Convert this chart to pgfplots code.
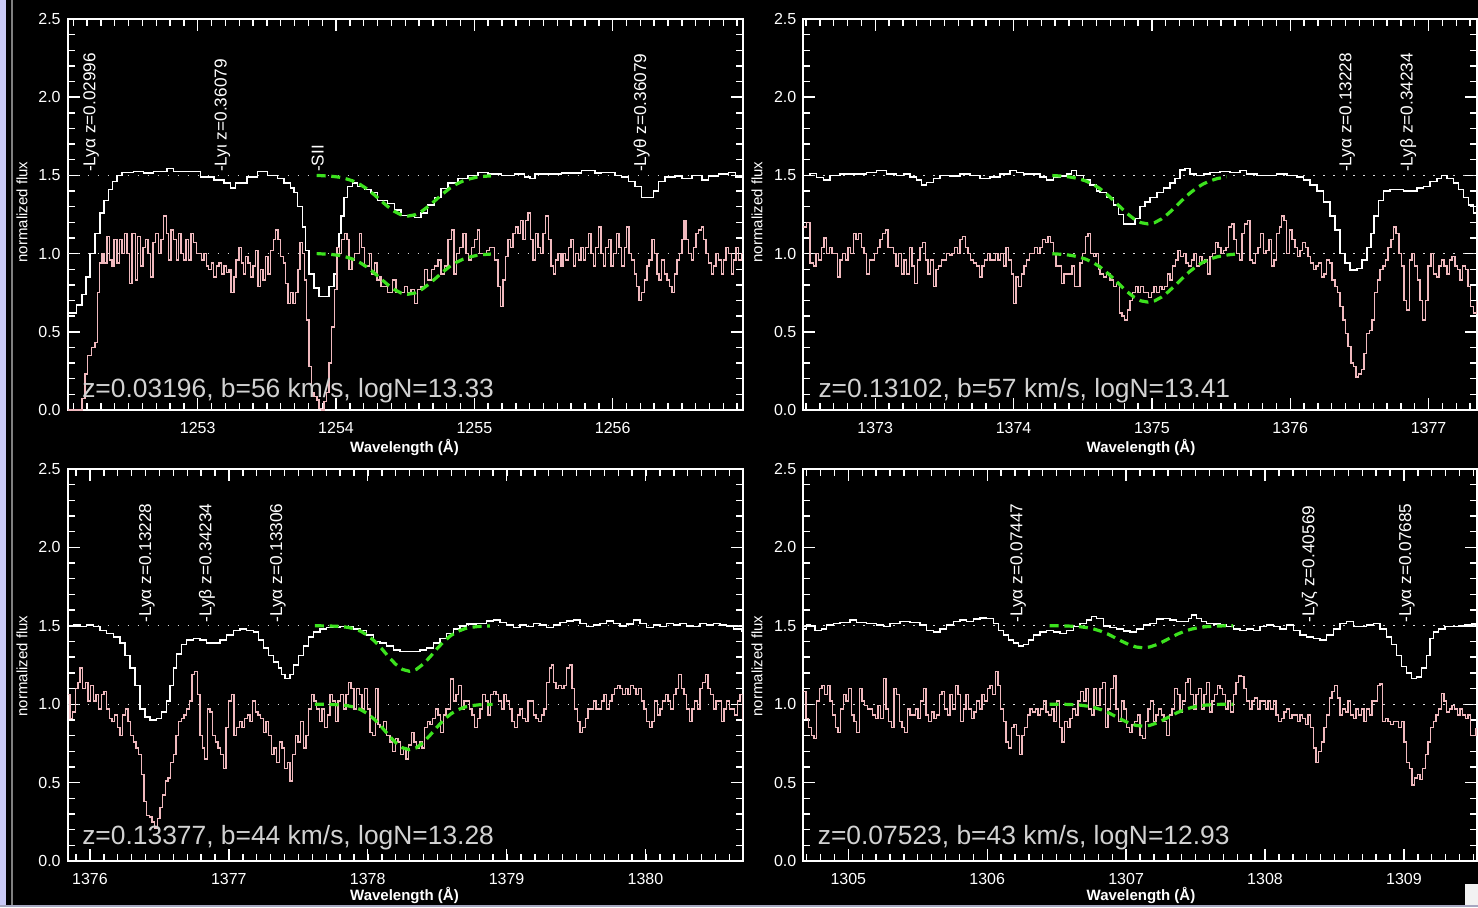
\documentclass[border=0pt]{standalone}
\usepackage{fontspec}
\setmainfont{Liberation Sans}
\usepackage{pgfplots}
\usepackage{pgfplotstable}
\pgfplotsset{compat=1.18}
\definecolor{pinkspec}{RGB}{240,185,190}
\definecolor{modelgreen}{RGB}{60,225,30}
\definecolor{lav}{RGB}{200,200,245}
\definecolor{annot}{RGB}{210,210,210}

% ---------------- Panel 1 ----------------
\pgfplotstableread[row sep=\\]{x y\\
1252.060 0.62\\ 1252.125 0.67\\ 1252.162 0.74\\ 1252.193 0.85\\ 1252.222 1.00\\ 1252.258 1.13\\ 1252.294 1.26\\ 1252.323 1.34\\
1252.355 1.41\\ 1252.384 1.46\\ 1252.415 1.50\\ 1252.452 1.52\\ 1252.536 1.525\\ 1252.609 1.515\\ 1252.681 1.525\\ 1252.778 1.545\\
1252.826 1.525\\ 1252.923 1.525\\ 1253.020 1.49\\ 1253.116 1.47\\ 1253.189 1.45\\ 1253.237 1.42\\ 1253.273 1.45\\ 1253.358 1.49\\
1253.431 1.525\\ 1253.503 1.50\\ 1253.576 1.48\\ 1253.624 1.45\\ 1253.672 1.42\\ 1253.696 1.39\\ 1253.721 1.30\\ 1253.757 1.17\\
1253.781 1.02\\ 1253.805 0.87\\ 1253.842 0.78\\ 1253.878 0.725\\ 1253.914 0.725\\ 1253.950 0.79\\ 1253.987 0.87\\ 1254.011 1.04\\
1254.023 1.13\\ 1254.035 1.24\\ 1254.059 1.36\\ 1254.083 1.43\\ 1254.119 1.45\\ 1254.156 1.43\\ 1254.204 1.41\\ 1254.252 1.39\\
1254.300 1.34\\ 1254.373 1.32\\ 1254.422 1.28\\ 1254.470 1.245\\ 1254.518 1.236\\ 1254.567 1.23\\ 1254.615 1.26\\ 1254.663 1.31\\
1254.712 1.36\\ 1254.760 1.415\\ 1254.808 1.45\\ 1254.881 1.48\\ 1254.953 1.50\\ 1255.026 1.52\\ 1255.098 1.51\\ 1255.195 1.50\\
1255.292 1.51\\ 1255.364 1.49\\ 1255.401 1.48\\ 1255.437 1.51\\ 1255.534 1.51\\ 1255.630 1.515\\ 1255.775 1.53\\ 1255.872 1.515\\
1255.920 1.52\\ 1256.017 1.50\\ 1256.065 1.49\\ 1256.114 1.46\\ 1256.162 1.43\\ 1256.210 1.36\\ 1256.259 1.36\\ 1256.295 1.40\\
1256.331 1.46\\ 1256.380 1.49\\ 1256.452 1.495\\ 1256.501 1.48\\ 1256.573 1.50\\ 1256.646 1.47\\ 1256.694 1.495\\ 1256.766 1.51\\
1256.839 1.52\\ 1256.887 1.49\\ 1256.948 1.49\\
}\wone

\pgfplotstableread[row sep=\\]{x y\\
1252.060 0\\ 1252.089 0\\ 1252.149 0\\ 1252.162 0.075\\ 1252.186 0.23\\ 1252.203 0.35\\ 1252.234 0.40\\ 1252.258 0.43\\
1252.275 0.75\\ 1252.290 0.94\\ 1252.307 1.00\\ 1252.323 0.94\\ 1252.343 1.11\\ 1252.362 0.96\\ 1252.379 0.92\\ 1252.396 1.09\\
1252.415 0.94\\ 1252.435 1.09\\ 1252.452 1.00\\ 1252.469 1.13\\ 1252.488 1.00\\ 1252.507 0.81\\ 1252.524 1.13\\ 1252.548 0.83\\
1252.565 1.11\\ 1252.585 0.92\\ 1252.604 1.04\\ 1252.621 1.09\\ 1252.640 1.00\\ 1252.657 0.85\\ 1252.676 1.07\\ 1252.696 1.13\\
1252.715 1.00\\ 1252.734 1.09\\ 1252.754 1.24\\ 1252.773 1.13\\ 1252.790 0.96\\ 1252.807 1.15\\ 1252.826 1.09\\ 1252.846 0.96\\
1252.863 1.13\\ 1252.879 1.00\\ 1252.899 0.96\\ 1252.916 1.09\\ 1252.935 0.96\\ 1252.952 1.13\\ 1252.971 1.07\\ 1252.991 1.00\\
1253.008 1.00\\ 1253.027 0.96\\ 1253.044 1.00\\ 1253.063 0.92\\ 1253.080 0.90\\ 1253.099 0.94\\ 1253.116 0.85\\ 1253.136 0.92\\
1253.153 0.94\\ 1253.172 0.87\\ 1253.189 0.92\\ 1253.208 0.88\\ 1253.225 0.90\\ 1253.242 0.75\\ 1253.261 0.85\\ 1253.278 0.96\\
1253.298 1.04\\ 1253.315 0.94\\ 1253.329 0.87\\ 1253.346 0.98\\ 1253.363 0.94\\ 1253.382 0.85\\ 1253.399 0.92\\ 1253.418 1.02\\
1253.435 0.79\\ 1253.455 0.90\\ 1253.472 0.83\\ 1253.491 0.98\\ 1253.508 0.87\\ 1253.527 1.02\\ 1253.547 1.09\\ 1253.563 1.15\\
1253.580 1.09\\ 1253.600 0.98\\ 1253.619 0.94\\ 1253.636 0.81\\ 1253.653 0.68\\ 1253.672 0.75\\ 1253.689 0.68\\ 1253.709 0.75\\
1253.725 0.90\\ 1253.740 1.07\\ 1253.757 1.00\\ 1253.774 0.83\\ 1253.788 0.575\\ 1253.805 0.28\\ 1253.822 0.11\\ 1253.841 0.085\\
1253.861 0.064\\ 1253.878 0.01\\ 1253.895 0.0\\ 1253.914 0.053\\ 1253.933 0.11\\ 1253.950 0.30\\ 1253.967 0.53\\ 1253.987 0.77\\
1254.006 1.04\\ 1254.023 1.00\\ 1254.040 1.09\\ 1254.059 1.13\\ 1254.078 1.09\\ 1254.095 0.90\\ 1254.115 0.96\\ 1254.132 1.00\\
1254.151 1.00\\ 1254.168 1.13\\ 1254.185 1.04\\ 1254.204 0.92\\ 1254.223 0.92\\ 1254.240 1.00\\ 1254.257 0.87\\ 1254.277 0.94\\
1254.296 0.83\\ 1254.313 0.85\\ 1254.325 0.79\\ 1254.349 0.79\\ 1254.373 0.75\\ 1254.410 0.83\\ 1254.434 0.75\\ 1254.470 0.75\\
1254.494 0.79\\ 1254.518 0.75\\ 1254.543 0.77\\ 1254.567 0.68\\ 1254.591 0.77\\ 1254.615 0.79\\ 1254.639 0.90\\ 1254.663 0.83\\
1254.688 0.90\\ 1254.712 0.92\\ 1254.736 0.96\\ 1254.760 0.87\\ 1254.784 0.92\\ 1254.808 1.09\\ 1254.833 1.15\\ 1254.852 0.87\\
1254.869 1.00\\ 1254.893 1.04\\ 1254.917 1.13\\ 1254.941 1.00\\ 1254.958 0.96\\ 1254.978 1.04\\ 1255.002 1.09\\ 1255.021 1.15\\
1255.038 1.00\\ 1255.062 1.00\\ 1255.086 1.02\\ 1255.111 1.04\\ 1255.147 0.96\\ 1255.171 0.79\\ 1255.190 0.66\\ 1255.207 0.83\\
1255.224 0.98\\ 1255.244 1.09\\ 1255.263 1.04\\ 1255.280 1.13\\ 1255.297 1.17\\ 1255.316 1.13\\ 1255.335 1.21\\ 1255.352 1.09\\
1255.369 1.21\\ 1255.389 1.26\\ 1255.408 1.09\\ 1255.425 0.96\\ 1255.442 1.13\\ 1255.461 1.04\\ 1255.480 1.00\\ 1255.497 1.13\\
1255.514 1.24\\ 1255.534 1.09\\ 1255.553 0.92\\ 1255.570 0.87\\ 1255.587 0.96\\ 1255.606 1.00\\ 1255.625 0.92\\ 1255.642 1.00\\
1255.659 0.96\\ 1255.679 1.04\\ 1255.698 1.09\\ 1255.715 0.92\\ 1255.732 1.00\\ 1255.751 0.96\\ 1255.771 1.04\\ 1255.787 0.96\\
1255.804 1.04\\ 1255.824 1.13\\ 1255.843 1.00\\ 1255.860 0.92\\ 1255.877 1.04\\ 1255.896 1.17\\ 1255.916 1.00\\ 1255.932 0.92\\
1255.949 1.04\\ 1255.969 1.09\\ 1255.988 0.92\\ 1256.005 1.00\\ 1256.029 1.13\\ 1256.046 1.04\\ 1256.065 0.92\\ 1256.085 1.04\\
1256.102 1.17\\ 1256.119 1.00\\ 1256.138 0.96\\ 1256.157 0.87\\ 1256.174 0.79\\ 1256.191 0.70\\ 1256.210 0.75\\ 1256.230 0.83\\
1256.247 0.92\\ 1256.264 0.96\\ 1256.283 1.09\\ 1256.302 1.00\\ 1256.319 0.87\\ 1256.336 0.83\\ 1256.355 0.96\\ 1256.375 0.87\\
1256.392 0.83\\ 1256.409 0.79\\ 1256.428 0.75\\ 1256.447 0.87\\ 1256.464 0.96\\ 1256.481 1.00\\ 1256.501 1.09\\ 1256.515 1.21\\
1256.529 1.09\\ 1256.549 1.00\\ 1256.568 0.96\\ 1256.585 1.04\\ 1256.602 1.13\\ 1256.621 1.15\\ 1256.641 1.17\\ 1256.658 1.09\\
1256.675 1.00\\ 1256.694 0.94\\ 1256.713 0.87\\ 1256.730 0.92\\ 1256.747 1.00\\ 1256.766 0.96\\ 1256.786 0.87\\ 1256.803 0.96\\
1256.820 1.04\\ 1256.839 1.00\\ 1256.858 0.87\\ 1256.875 0.96\\ 1256.892 1.04\\ 1256.911 0.96\\ 1256.931 1.00\\ 1256.948 0.92\\
}\pone

\pgfplotstableread[row sep=\\]{x y\\
1253.86 1.500\\ 1253.92 1.497\\ 1253.97 1.494\\ 1254.02 1.489\\ 1254.07 1.479\\ 1254.12 1.465\\ 1254.17 1.444\\ 1254.22 1.416\\
1254.27 1.381\\ 1254.32 1.342\\ 1254.37 1.304\\ 1254.42 1.271\\ 1254.47 1.248\\ 1254.52 1.240\\ 1254.57 1.248\\ 1254.62 1.271\\
1254.67 1.304\\ 1254.72 1.342\\ 1254.77 1.381\\ 1254.82 1.416\\ 1254.87 1.444\\ 1254.92 1.465\\ 1254.97 1.479\\ 1255.02 1.489\\
1255.07 1.494\\ 1255.12 1.497\\
}\goneu
\pgfplotstableread[row sep=\\]{x y\\
1253.86 1.000\\ 1253.92 0.997\\ 1253.97 0.994\\ 1254.02 0.989\\ 1254.07 0.979\\ 1254.12 0.965\\ 1254.17 0.944\\ 1254.22 0.916\\
1254.27 0.881\\ 1254.32 0.842\\ 1254.37 0.804\\ 1254.42 0.771\\ 1254.47 0.748\\ 1254.52 0.740\\ 1254.57 0.748\\ 1254.62 0.771\\
1254.67 0.804\\ 1254.72 0.842\\ 1254.77 0.881\\ 1254.82 0.916\\ 1254.87 0.944\\ 1254.92 0.965\\ 1254.97 0.979\\ 1255.02 0.989\\
1255.07 0.994\\ 1255.12 0.997\\
}\gonel

% ---------------- Panel 2 ----------------
\pgfplotstableread[row sep=\\]{x y\\
1372.480 1.50\\ 1372.528 1.513\\ 1372.576 1.488\\ 1372.625 1.471\\ 1372.673 1.50\\ 1372.745 1.51\\ 1372.842 1.51\\ 1372.938 1.517\\
1373.010 1.53\\ 1373.083 1.51\\ 1373.155 1.50\\ 1373.203 1.51\\ 1373.251 1.49\\ 1373.299 1.47\\ 1373.336 1.44\\ 1373.372 1.455\\
1373.420 1.48\\ 1373.468 1.50\\ 1373.540 1.496\\ 1373.613 1.51\\ 1373.685 1.50\\ 1373.757 1.48\\ 1373.830 1.49\\ 1373.902 1.51\\
1373.974 1.53\\ 1374.022 1.517\\ 1374.071 1.51\\ 1374.143 1.51\\ 1374.191 1.49\\ 1374.239 1.47\\ 1374.288 1.49\\ 1374.336 1.496\\
1374.384 1.51\\ 1374.420 1.53\\ 1374.456 1.50\\ 1374.504 1.47\\ 1374.553 1.44\\ 1374.601 1.40\\ 1374.625 1.39\\ 1374.673 1.36\\
1374.721 1.31\\ 1374.758 1.25\\ 1374.794 1.19\\ 1374.842 1.19\\ 1374.878 1.225\\ 1374.914 1.30\\ 1374.950 1.33\\ 1374.987 1.36\\
1375.035 1.39\\ 1375.083 1.42\\ 1375.131 1.45\\ 1375.167 1.48\\ 1375.203 1.535\\ 1375.240 1.545\\ 1375.276 1.51\\ 1375.324 1.50\\
1375.372 1.51\\ 1375.420 1.517\\ 1375.493 1.524\\ 1375.565 1.517\\ 1375.637 1.53\\ 1375.685 1.51\\ 1375.758 1.50\\ 1375.830 1.50\\
1375.902 1.51\\ 1375.975 1.50\\ 1376.047 1.49\\ 1376.095 1.47\\ 1376.143 1.44\\ 1376.192 1.40\\ 1376.240 1.33\\ 1376.288 1.24\\
1376.324 1.15\\ 1376.360 1.00\\ 1376.397 0.94\\ 1376.433 0.895\\ 1376.481 0.905\\ 1376.517 0.96\\ 1376.553 1.04\\ 1376.582 1.13\\
1376.606 1.24\\ 1376.638 1.34\\ 1376.674 1.40\\ 1376.722 1.41\\ 1376.770 1.41\\ 1376.818 1.40\\ 1376.867 1.40\\ 1376.915 1.42\\
1376.963 1.43\\ 1377.011 1.46\\ 1377.059 1.48\\ 1377.095 1.50\\ 1377.132 1.48\\ 1377.180 1.45\\ 1377.216 1.41\\ 1377.252 1.36\\
1377.288 1.31\\ 1377.324 1.26\\ 1377.348 1.23\\
}\wtwo

\pgfplotstableread[row sep=\\]{x y\\
1372.480 1.17\\ 1372.504 1.20\\ 1372.528 0.94\\ 1372.552 0.92\\ 1372.572 1.00\\ 1372.591 0.96\\ 1372.610 1.04\\ 1372.629 1.10\\
1372.649 1.00\\ 1372.668 1.04\\ 1372.687 1.00\\ 1372.707 1.00\\ 1372.726 0.85\\ 1372.745 0.96\\ 1372.764 1.00\\ 1372.784 0.96\\
1372.803 1.04\\ 1372.822 1.00\\ 1372.842 1.13\\ 1372.861 1.09\\ 1372.880 1.13\\ 1372.899 1.04\\ 1372.919 1.00\\ 1372.938 0.87\\
1372.957 0.96\\ 1372.977 0.96\\ 1372.996 1.00\\ 1373.015 1.04\\ 1373.034 1.09\\ 1373.054 1.13\\ 1373.073 1.15\\ 1373.092 1.04\\
1373.111 1.04\\ 1373.131 1.00\\ 1373.150 0.92\\ 1373.169 1.00\\ 1373.189 0.87\\ 1373.208 0.96\\ 1373.227 0.87\\ 1373.246 1.04\\
1373.266 0.92\\ 1373.285 0.81\\ 1373.304 0.96\\ 1373.324 1.04\\ 1373.343 1.07\\ 1373.362 0.96\\ 1373.381 0.87\\ 1373.401 0.96\\
1373.420 0.79\\ 1373.439 0.90\\ 1373.459 0.92\\ 1373.478 0.96\\ 1373.497 0.96\\ 1373.516 1.00\\ 1373.536 0.99\\ 1373.555 1.00\\
1373.574 1.04\\ 1373.594 1.00\\ 1373.613 1.09\\ 1373.632 1.11\\ 1373.651 1.04\\ 1373.671 1.00\\ 1373.690 0.96\\ 1373.709 0.94\\
1373.733 0.92\\ 1373.753 0.85\\ 1373.772 0.92\\ 1373.791 0.96\\ 1373.810 1.00\\ 1373.830 0.96\\ 1373.849 0.96\\ 1373.868 1.00\\
1373.888 0.96\\ 1373.907 1.00\\ 1373.926 0.92\\ 1373.945 1.04\\ 1373.965 0.96\\ 1373.984 0.87\\ 1373.998 0.68\\ 1374.018 0.85\\
1374.037 0.79\\ 1374.056 0.87\\ 1374.076 0.92\\ 1374.095 0.96\\ 1374.114 1.00\\ 1374.133 1.00\\ 1374.153 1.04\\ 1374.172 1.00\\
1374.191 1.04\\ 1374.211 1.09\\ 1374.230 1.07\\ 1374.249 1.11\\ 1374.268 1.07\\ 1374.288 1.00\\ 1374.307 0.92\\ 1374.326 0.92\\
1374.346 0.81\\ 1374.365 0.87\\ 1374.384 0.87\\ 1374.403 0.87\\ 1374.423 0.92\\ 1374.442 0.79\\ 1374.461 0.79\\ 1374.480 0.94\\
1374.500 1.00\\ 1374.519 1.11\\ 1374.538 1.13\\ 1374.558 1.00\\ 1374.577 0.98\\ 1374.596 1.00\\ 1374.615 0.90\\ 1374.625 0.87\\
1374.649 0.85\\ 1374.673 0.87\\ 1374.697 0.83\\ 1374.721 0.79\\ 1374.746 0.81\\ 1374.765 0.62\\ 1374.784 0.60\\ 1374.803 0.575\\
1374.823 0.64\\ 1374.842 0.70\\ 1374.861 0.75\\ 1374.880 0.79\\ 1374.900 0.75\\ 1374.919 0.79\\ 1374.938 0.75\\ 1374.958 0.75\\
1374.977 0.72\\ 1374.996 0.75\\ 1375.015 0.79\\ 1375.035 0.75\\ 1375.054 0.79\\ 1375.073 0.77\\ 1375.093 0.79\\ 1375.112 0.87\\
1375.131 0.83\\ 1375.150 0.92\\ 1375.170 0.96\\ 1375.189 1.02\\ 1375.208 0.98\\ 1375.228 1.00\\ 1375.247 0.94\\ 1375.266 0.92\\
1375.285 0.96\\ 1375.305 1.00\\ 1375.324 0.92\\ 1375.343 0.98\\ 1375.363 0.94\\ 1375.382 0.96\\ 1375.401 0.87\\ 1375.420 0.98\\
1375.440 1.00\\ 1375.459 1.07\\ 1375.478 1.04\\ 1375.498 1.00\\ 1375.517 1.02\\ 1375.536 1.04\\ 1375.555 1.17\\ 1375.575 1.19\\
1375.594 1.09\\ 1375.613 1.00\\ 1375.632 0.96\\ 1375.652 1.13\\ 1375.671 1.19\\ 1375.690 1.21\\ 1375.710 0.96\\ 1375.729 0.94\\
1375.748 1.00\\ 1375.767 1.04\\ 1375.787 1.13\\ 1375.806 1.00\\ 1375.825 1.02\\ 1375.845 1.09\\ 1375.864 0.92\\ 1375.883 0.96\\
1375.902 1.13\\ 1375.922 1.17\\ 1375.936 1.24\\ 1375.955 1.21\\ 1375.975 1.00\\ 1375.994 1.15\\ 1376.013 1.09\\ 1376.033 1.04\\
1376.052 0.98\\ 1376.071 1.02\\ 1376.090 1.07\\ 1376.110 1.04\\ 1376.129 0.98\\ 1376.148 0.94\\ 1376.168 0.90\\ 1376.187 0.92\\
1376.206 0.94\\ 1376.225 0.85\\ 1376.245 0.87\\ 1376.264 0.96\\ 1376.283 0.94\\ 1376.303 0.83\\ 1376.322 0.79\\ 1376.341 0.75\\
1376.360 0.66\\ 1376.380 0.575\\ 1376.399 0.49\\ 1376.418 0.405\\ 1376.438 0.30\\ 1376.457 0.28\\ 1376.476 0.21\\ 1376.495 0.23\\
1376.515 0.26\\ 1376.534 0.36\\ 1376.553 0.49\\ 1376.572 0.51\\ 1376.592 0.575\\ 1376.611 0.75\\ 1376.630 0.83\\ 1376.650 0.90\\
1376.669 0.92\\ 1376.688 0.96\\ 1376.707 1.04\\ 1376.727 1.09\\ 1376.746 1.17\\ 1376.765 1.13\\ 1376.785 1.00\\ 1376.804 0.92\\
1376.823 0.70\\ 1376.842 0.64\\ 1376.862 0.96\\ 1376.881 1.00\\ 1376.900 0.92\\ 1376.920 0.83\\ 1376.939 0.70\\ 1376.958 0.575\\
1376.977 0.70\\ 1376.997 0.92\\ 1377.016 1.00\\ 1377.035 0.87\\ 1377.055 0.85\\ 1377.074 0.92\\ 1377.093 0.96\\ 1377.112 0.92\\
1377.132 0.87\\ 1377.151 0.96\\ 1377.170 0.98\\ 1377.190 0.92\\ 1377.209 0.90\\ 1377.228 0.83\\ 1377.247 0.92\\ 1377.267 0.90\\
1377.286 0.79\\ 1377.305 0.66\\ 1377.324 0.62\\ 1377.348 0.70\\
}\ptwo

\pgfplotstableread[row sep=\\]{x y\\
1374.28 1.499\\ 1374.32 1.497\\ 1374.37 1.494\\ 1374.42 1.488\\ 1374.47 1.479\\ 1374.52 1.465\\ 1374.57 1.445\\ 1374.62 1.418\\
1374.67 1.383\\ 1374.72 1.342\\ 1374.77 1.299\\ 1374.82 1.257\\ 1374.87 1.222\\ 1374.92 1.198\\ 1374.97 1.190\\ 1375.02 1.198\\
1375.07 1.222\\ 1375.12 1.257\\ 1375.17 1.299\\ 1375.22 1.342\\ 1375.27 1.383\\ 1375.32 1.418\\ 1375.37 1.445\\ 1375.42 1.465\\
1375.47 1.479\\ 1375.52 1.488\\ 1375.54 1.491\\
}\gtwou
\pgfplotstableread[row sep=\\]{x y\\
1374.28 0.999\\ 1374.32 0.997\\ 1374.37 0.994\\ 1374.42 0.988\\ 1374.47 0.979\\ 1374.52 0.965\\ 1374.57 0.945\\ 1374.62 0.918\\
1374.67 0.883\\ 1374.72 0.842\\ 1374.77 0.799\\ 1374.82 0.757\\ 1374.87 0.722\\ 1374.92 0.698\\ 1374.97 0.690\\ 1375.02 0.698\\
1375.07 0.722\\ 1375.12 0.757\\ 1375.17 0.799\\ 1375.22 0.842\\ 1375.27 0.883\\ 1375.32 0.918\\ 1375.37 0.945\\ 1375.42 0.965\\
1375.47 0.979\\ 1375.52 0.988\\ 1375.57 0.994\\ 1375.60 0.996\\
}\gtwol

% ---------------- Panel 3 ----------------
\pgfplotstableread[row sep=\\]{x y\\
1375.839 1.50\\ 1375.880 1.505\\ 1375.928 1.495\\ 1375.976 1.505\\ 1376.024 1.495\\ 1376.072 1.47\\ 1376.120 1.45\\ 1376.168 1.43\\
1376.216 1.39\\ 1376.252 1.31\\ 1376.288 1.23\\ 1376.324 1.12\\ 1376.360 0.97\\ 1376.396 0.92\\ 1376.432 0.90\\ 1376.480 0.91\\
1376.516 0.95\\ 1376.552 1.02\\ 1376.576 1.12\\ 1376.600 1.23\\ 1376.624 1.32\\ 1376.660 1.38\\ 1376.696 1.41\\ 1376.744 1.42\\
1376.792 1.41\\ 1376.840 1.39\\ 1376.888 1.39\\ 1376.936 1.41\\ 1376.984 1.44\\ 1377.032 1.47\\ 1377.080 1.48\\ 1377.128 1.47\\
1377.176 1.46\\ 1377.212 1.41\\ 1377.248 1.36\\ 1377.284 1.31\\ 1377.320 1.27\\ 1377.356 1.23\\ 1377.380 1.19\\ 1377.404 1.165\\
1377.440 1.19\\ 1377.464 1.25\\ 1377.500 1.31\\ 1377.536 1.37\\ 1377.572 1.43\\ 1377.608 1.46\\ 1377.656 1.48\\ 1377.704 1.49\\
1377.752 1.49\\ 1377.800 1.495\\ 1377.848 1.495\\ 1377.896 1.48\\ 1377.944 1.47\\ 1377.992 1.44\\ 1378.040 1.40\\ 1378.088 1.39\\
1378.136 1.37\\ 1378.184 1.345\\ 1378.232 1.335\\ 1378.280 1.335\\ 1378.328 1.335\\ 1378.376 1.345\\ 1378.424 1.36\\ 1378.472 1.39\\
1378.520 1.42\\ 1378.568 1.45\\ 1378.616 1.48\\ 1378.664 1.50\\ 1378.712 1.51\\ 1378.784 1.516\\ 1378.856 1.53\\ 1378.904 1.537\\
1378.952 1.52\\ 1379.000 1.505\\ 1379.048 1.49\\ 1379.096 1.505\\ 1379.144 1.495\\ 1379.192 1.516\\ 1379.240 1.505\\ 1379.288 1.49\\
1379.336 1.505\\ 1379.384 1.52\\ 1379.432 1.53\\ 1379.480 1.537\\ 1379.528 1.516\\ 1379.576 1.495\\ 1379.624 1.505\\ 1379.672 1.516\\
1379.720 1.53\\ 1379.768 1.516\\ 1379.816 1.50\\ 1379.864 1.51\\ 1379.912 1.537\\ 1379.960 1.516\\ 1380.008 1.49\\ 1380.056 1.505\\
1380.104 1.495\\ 1380.152 1.516\\ 1380.200 1.505\\ 1380.248 1.516\\ 1380.296 1.50\\ 1380.344 1.495\\ 1380.392 1.516\\ 1380.440 1.505\\
1380.488 1.516\\ 1380.536 1.505\\ 1380.584 1.50\\ 1380.632 1.48\\ 1380.692 1.46\\
}\wthree

\pgfplotstableread[row sep=\\]{x y\\
1375.839 1.06\\ 1375.856 0.91\\ 1375.875 0.95\\ 1375.894 1.10\\ 1375.914 1.14\\ 1375.928 1.23\\ 1375.947 1.10\\ 1375.966 1.14\\
1375.986 1.02\\ 1376.005 1.12\\ 1376.024 1.02\\ 1376.043 1.06\\ 1376.062 0.97\\ 1376.082 1.06\\ 1376.101 1.08\\ 1376.120 0.97\\
1376.139 0.91\\ 1376.158 0.89\\ 1376.178 0.93\\ 1376.197 0.85\\ 1376.216 0.80\\ 1376.235 0.93\\ 1376.254 0.97\\ 1376.274 0.89\\
1376.293 0.80\\ 1376.312 0.76\\ 1376.331 0.72\\ 1376.350 0.68\\ 1376.370 0.55\\ 1376.389 0.38\\ 1376.408 0.29\\ 1376.427 0.28\\
1376.446 0.25\\ 1376.466 0.21\\ 1376.485 0.27\\ 1376.504 0.34\\ 1376.523 0.42\\ 1376.542 0.51\\ 1376.562 0.53\\ 1376.581 0.63\\
1376.600 0.68\\ 1376.619 0.80\\ 1376.638 0.89\\ 1376.658 0.91\\ 1376.677 0.93\\ 1376.696 0.97\\ 1376.715 1.02\\ 1376.734 1.19\\
1376.754 1.21\\ 1376.773 1.06\\ 1376.792 0.80\\ 1376.811 0.72\\ 1376.826 0.65\\ 1376.845 0.97\\ 1376.864 0.95\\ 1376.883 0.80\\
1376.902 0.76\\ 1376.922 0.72\\ 1376.941 0.68\\ 1376.960 0.59\\ 1376.979 0.85\\ 1376.998 1.02\\ 1377.018 1.06\\ 1377.037 0.80\\
1377.056 0.85\\ 1377.075 0.89\\ 1377.094 0.85\\ 1377.114 0.91\\ 1377.133 0.93\\ 1377.152 0.89\\ 1377.171 1.02\\ 1377.190 0.95\\
1377.210 0.93\\ 1377.229 0.91\\ 1377.248 0.82\\ 1377.267 0.89\\ 1377.286 0.80\\ 1377.306 0.68\\ 1377.325 0.72\\ 1377.344 0.63\\
1377.363 0.76\\ 1377.382 0.72\\ 1377.402 0.59\\ 1377.421 0.63\\ 1377.440 0.51\\ 1377.459 0.68\\ 1377.478 0.80\\ 1377.498 0.76\\
1377.517 0.89\\ 1377.536 0.72\\ 1377.555 0.80\\ 1377.574 0.97\\ 1377.594 1.06\\ 1377.613 1.02\\ 1377.632 0.97\\ 1377.651 0.89\\
1377.670 0.97\\ 1377.689 0.85\\ 1377.709 0.93\\ 1377.728 1.06\\ 1377.747 1.02\\ 1377.766 0.89\\ 1377.785 1.02\\ 1377.805 1.06\\
1377.824 0.97\\ 1377.843 1.06\\ 1377.862 1.14\\ 1377.881 1.10\\ 1377.901 0.97\\ 1377.920 1.10\\ 1377.939 1.06\\ 1377.958 0.97\\
1377.977 1.10\\ 1377.997 0.97\\ 1378.016 0.82\\ 1378.035 0.80\\ 1378.054 1.10\\ 1378.073 0.87\\ 1378.088 0.85\\ 1378.112 0.89\\
1378.136 0.80\\ 1378.160 0.76\\ 1378.179 0.70\\ 1378.198 0.78\\ 1378.218 0.76\\ 1378.237 0.68\\ 1378.256 0.72\\ 1378.275 0.65\\
1378.294 0.74\\ 1378.314 0.82\\ 1378.333 0.76\\ 1378.352 0.72\\ 1378.371 0.76\\ 1378.390 0.72\\ 1378.410 0.85\\ 1378.429 0.89\\
1378.448 0.87\\ 1378.467 0.91\\ 1378.486 0.97\\ 1378.506 0.93\\ 1378.525 0.82\\ 1378.544 0.93\\ 1378.563 0.97\\ 1378.582 0.97\\
1378.597 1.16\\ 1378.616 1.02\\ 1378.635 1.06\\ 1378.654 1.12\\ 1378.674 0.97\\ 1378.693 1.02\\ 1378.712 1.02\\ 1378.731 0.97\\
1378.750 0.93\\ 1378.770 0.85\\ 1378.789 0.91\\ 1378.808 0.97\\ 1378.827 1.06\\ 1378.846 1.02\\ 1378.866 0.93\\ 1378.885 1.06\\
1378.904 1.08\\ 1378.923 1.06\\ 1378.942 1.02\\ 1378.962 0.97\\ 1378.981 1.06\\ 1379.000 1.02\\ 1379.019 0.97\\ 1379.038 0.89\\
1379.058 0.85\\ 1379.077 0.93\\ 1379.096 0.97\\ 1379.115 0.91\\ 1379.134 0.89\\ 1379.154 1.02\\ 1379.173 1.02\\ 1379.192 0.93\\
1379.211 0.91\\ 1379.230 0.89\\ 1379.250 0.93\\ 1379.269 0.97\\ 1379.288 1.14\\ 1379.307 1.23\\ 1379.322 1.25\\ 1379.336 1.14\\
1379.355 1.10\\ 1379.374 1.12\\ 1379.394 1.10\\ 1379.413 1.12\\ 1379.432 1.23\\ 1379.451 1.25\\ 1379.470 1.10\\ 1379.490 0.97\\
1379.509 0.89\\ 1379.528 0.82\\ 1379.547 0.85\\ 1379.566 0.91\\ 1379.586 0.97\\ 1379.605 0.97\\ 1379.624 1.02\\ 1379.643 0.97\\
1379.662 0.97\\ 1379.682 1.02\\ 1379.701 1.06\\ 1379.720 0.97\\ 1379.739 1.02\\ 1379.758 1.06\\ 1379.778 1.10\\ 1379.797 1.12\\
1379.816 1.10\\ 1379.835 1.06\\ 1379.854 1.10\\ 1379.874 1.06\\ 1379.893 1.12\\ 1379.912 1.10\\ 1379.931 1.06\\ 1379.950 1.10\\
1379.970 1.02\\ 1379.989 0.97\\ 1380.008 0.89\\ 1380.027 0.85\\ 1380.046 0.89\\ 1380.066 1.02\\ 1380.085 0.93\\ 1380.104 0.97\\
1380.123 1.02\\ 1380.142 1.06\\ 1380.162 1.02\\ 1380.181 0.97\\ 1380.200 1.06\\ 1380.219 1.10\\ 1380.238 1.19\\ 1380.258 1.10\\
1380.277 1.06\\ 1380.296 0.97\\ 1380.315 0.89\\ 1380.334 0.97\\ 1380.354 1.02\\ 1380.373 0.97\\ 1380.392 1.10\\ 1380.411 1.14\\
1380.430 1.19\\ 1380.450 1.10\\ 1380.469 1.06\\ 1380.488 0.97\\ 1380.507 1.02\\ 1380.526 1.02\\ 1380.546 0.89\\ 1380.565 0.97\\
1380.584 1.02\\ 1380.603 0.97\\ 1380.622 0.97\\ 1380.642 0.93\\ 1380.661 1.02\\ 1380.680 1.06\\ 1380.699 0.89\\
}\pthree

\pgfplotstableread[row sep=\\]{x y\\
1377.62 1.500\\ 1377.65 1.500\\ 1377.70 1.499\\ 1377.75 1.498\\ 1377.80 1.496\\ 1377.85 1.491\\ 1377.90 1.482\\ 1377.95 1.465\\
1378.00 1.439\\ 1378.05 1.402\\ 1378.10 1.355\\ 1378.15 1.303\\ 1378.20 1.256\\ 1378.25 1.222\\ 1378.30 1.210\\ 1378.35 1.222\\
1378.40 1.256\\ 1378.45 1.303\\ 1378.50 1.355\\ 1378.55 1.402\\ 1378.60 1.439\\ 1378.65 1.465\\ 1378.70 1.482\\ 1378.75 1.491\\
1378.80 1.496\\ 1378.85 1.498\\ 1378.88 1.499\\
}\gthreeu
\pgfplotstableread[row sep=\\]{x y\\
1377.62 1.000\\ 1377.65 1.000\\ 1377.70 0.999\\ 1377.75 0.998\\ 1377.80 0.996\\ 1377.85 0.991\\ 1377.90 0.982\\ 1377.95 0.965\\
1378.00 0.939\\ 1378.05 0.902\\ 1378.10 0.855\\ 1378.15 0.803\\ 1378.20 0.756\\ 1378.25 0.722\\ 1378.30 0.710\\ 1378.35 0.722\\
1378.40 0.756\\ 1378.45 0.803\\ 1378.50 0.855\\ 1378.55 0.902\\ 1378.60 0.939\\ 1378.65 0.965\\ 1378.70 0.982\\ 1378.75 0.991\\
1378.80 0.996\\ 1378.85 0.998\\ 1378.90 0.999\\
}\gthreel

% ---------------- Panel 4 ----------------
\pgfplotstableread[row sep=\\]{x y\\
1304.676 1.48\\ 1304.700 1.505\\ 1304.724 1.50\\ 1304.760 1.47\\ 1304.808 1.48\\ 1304.844 1.505\\ 1304.892 1.516\\ 1304.940 1.52\\
1305.012 1.537\\ 1305.060 1.52\\ 1305.132 1.516\\ 1305.204 1.505\\ 1305.252 1.495\\ 1305.300 1.516\\ 1305.372 1.526\\ 1305.444 1.52\\
1305.516 1.505\\ 1305.564 1.47\\ 1305.612 1.46\\ 1305.660 1.48\\ 1305.708 1.505\\ 1305.756 1.526\\ 1305.804 1.537\\ 1305.852 1.526\\
1305.900 1.543\\ 1305.948 1.55\\ 1305.996 1.548\\ 1306.044 1.516\\ 1306.080 1.47\\ 1306.116 1.44\\ 1306.152 1.41\\ 1306.188 1.39\\
1306.224 1.37\\ 1306.260 1.38\\ 1306.296 1.41\\ 1306.332 1.44\\ 1306.380 1.46\\ 1306.428 1.47\\ 1306.476 1.46\\ 1306.524 1.45\\
1306.572 1.47\\ 1306.620 1.495\\ 1306.668 1.516\\ 1306.716 1.537\\ 1306.752 1.56\\ 1306.788 1.548\\ 1306.836 1.50\\ 1306.884 1.49\\
1306.932 1.48\\ 1306.980 1.467\\ 1307.028 1.46\\ 1307.076 1.48\\ 1307.124 1.505\\ 1307.172 1.516\\ 1307.220 1.543\\ 1307.268 1.548\\
1307.316 1.537\\ 1307.364 1.526\\ 1307.412 1.526\\ 1307.448 1.548\\ 1307.472 1.57\\ 1307.508 1.548\\ 1307.544 1.526\\ 1307.580 1.516\\
1307.628 1.51\\ 1307.676 1.505\\ 1307.724 1.495\\ 1307.772 1.48\\ 1307.820 1.47\\ 1307.868 1.48\\ 1307.916 1.47\\ 1307.964 1.495\\
1308.012 1.505\\ 1308.060 1.495\\ 1308.108 1.48\\ 1308.156 1.505\\ 1308.204 1.47\\ 1308.252 1.44\\ 1308.300 1.43\\ 1308.348 1.42\\
1308.396 1.41\\ 1308.444 1.44\\ 1308.492 1.48\\ 1308.540 1.516\\ 1308.588 1.526\\ 1308.636 1.495\\ 1308.684 1.495\\ 1308.732 1.505\\
1308.780 1.516\\ 1308.828 1.48\\ 1308.876 1.43\\ 1308.912 1.38\\ 1308.948 1.31\\ 1308.984 1.24\\ 1309.020 1.20\\ 1309.056 1.165\\
1309.092 1.175\\ 1309.128 1.23\\ 1309.164 1.31\\ 1309.188 1.42\\ 1309.212 1.46\\ 1309.248 1.48\\ 1309.296 1.495\\ 1309.344 1.495\\
1309.392 1.50\\ 1309.440 1.505\\ 1309.488 1.51\\ 1309.524 1.516\\
}\wfour

\pgfplotstableread[row sep=\\]{x y\\
1304.676 1.08\\ 1304.695 0.91\\ 1304.714 0.85\\ 1304.734 0.80\\ 1304.753 0.78\\ 1304.772 1.02\\ 1304.791 1.10\\ 1304.810 1.12\\
1304.830 1.06\\ 1304.849 1.12\\ 1304.868 1.02\\ 1304.887 0.93\\ 1304.906 0.85\\ 1304.926 0.82\\ 1304.945 0.97\\ 1304.964 1.06\\
1304.983 1.02\\ 1305.002 1.10\\ 1305.022 0.93\\ 1305.041 0.89\\ 1305.060 0.82\\ 1305.079 1.10\\ 1305.098 1.02\\ 1305.118 0.99\\
1305.137 0.97\\ 1305.156 0.97\\ 1305.175 0.93\\ 1305.194 0.91\\ 1305.214 0.99\\ 1305.233 0.91\\ 1305.252 1.165\\ 1305.271 0.97\\
1305.290 0.89\\ 1305.310 0.85\\ 1305.329 1.10\\ 1305.348 1.06\\ 1305.367 0.89\\ 1305.386 0.85\\ 1305.406 0.82\\ 1305.425 0.97\\
1305.444 0.93\\ 1305.463 0.93\\ 1305.482 0.97\\ 1305.502 0.91\\ 1305.521 1.02\\ 1305.540 1.10\\ 1305.559 0.93\\ 1305.578 0.89\\
1305.598 0.95\\ 1305.617 0.91\\ 1305.636 0.93\\ 1305.655 1.06\\ 1305.674 1.08\\ 1305.694 0.97\\ 1305.713 0.93\\ 1305.732 1.06\\
1305.751 0.97\\ 1305.770 1.12\\ 1305.790 1.06\\ 1305.809 0.89\\ 1305.828 0.97\\ 1305.847 1.06\\ 1305.866 0.97\\ 1305.886 0.91\\
1305.905 0.95\\ 1305.924 1.02\\ 1305.943 0.97\\ 1305.962 1.06\\ 1305.982 1.02\\ 1306.001 1.10\\ 1306.020 1.12\\ 1306.039 1.06\\
1306.058 1.21\\ 1306.078 1.12\\ 1306.097 0.97\\ 1306.116 0.89\\ 1306.135 0.76\\ 1306.154 0.72\\ 1306.174 0.85\\ 1306.193 0.87\\
1306.212 0.80\\ 1306.231 0.68\\ 1306.250 0.80\\ 1306.270 0.85\\ 1306.289 0.93\\ 1306.308 0.97\\ 1306.327 0.95\\ 1306.346 0.97\\
1306.366 0.93\\ 1306.385 0.97\\ 1306.404 1.02\\ 1306.423 0.95\\ 1306.442 0.93\\ 1306.462 0.97\\ 1306.481 0.89\\ 1306.500 1.02\\
1306.519 0.85\\ 1306.538 0.76\\ 1306.558 0.89\\ 1306.577 0.85\\ 1306.596 0.91\\ 1306.615 0.97\\ 1306.634 0.93\\ 1306.654 1.02\\
1306.673 1.08\\ 1306.692 1.02\\ 1306.711 1.10\\ 1306.730 0.97\\ 1306.750 0.93\\ 1306.769 1.10\\ 1306.788 0.99\\ 1306.812 1.10\\
1306.831 1.14\\ 1306.850 0.85\\ 1306.870 0.97\\ 1306.889 1.10\\ 1306.908 1.18\\ 1306.927 0.97\\ 1306.946 0.89\\ 1306.966 1.02\\
1306.985 0.97\\ 1307.004 0.85\\ 1307.023 0.82\\ 1307.042 0.87\\ 1307.062 0.89\\ 1307.081 0.93\\ 1307.100 0.80\\ 1307.119 0.78\\
1307.138 0.89\\ 1307.158 0.97\\ 1307.177 1.02\\ 1307.196 0.89\\ 1307.215 0.93\\ 1307.234 0.97\\ 1307.254 0.93\\ 1307.273 0.89\\
1307.292 0.80\\ 1307.311 0.93\\ 1307.330 0.97\\ 1307.350 1.10\\ 1307.369 1.06\\ 1307.388 0.95\\ 1307.407 1.02\\ 1307.426 1.14\\
1307.446 1.165\\ 1307.465 1.06\\ 1307.484 0.97\\ 1307.503 1.06\\ 1307.522 1.10\\ 1307.542 0.97\\ 1307.561 1.06\\ 1307.580 1.14\\
1307.599 0.95\\ 1307.618 1.02\\ 1307.638 1.06\\ 1307.657 1.12\\ 1307.676 1.10\\ 1307.695 1.06\\ 1307.714 0.97\\ 1307.734 1.02\\
1307.753 0.95\\ 1307.772 1.06\\ 1307.791 1.14\\ 1307.810 1.18\\ 1307.830 1.175\\ 1307.849 1.10\\ 1307.868 1.02\\ 1307.887 0.97\\
1307.906 1.02\\ 1307.926 1.04\\ 1307.945 0.97\\ 1307.964 1.02\\ 1307.983 1.02\\ 1308.002 0.97\\ 1308.022 1.02\\ 1308.041 0.97\\
1308.060 1.02\\ 1308.079 0.93\\ 1308.098 0.89\\ 1308.118 0.91\\ 1308.137 0.95\\ 1308.156 0.97\\ 1308.175 0.91\\ 1308.194 0.93\\
1308.214 0.93\\ 1308.233 0.89\\ 1308.252 0.93\\ 1308.271 0.91\\ 1308.290 0.87\\ 1308.310 0.93\\ 1308.329 0.85\\ 1308.348 0.72\\
1308.367 0.63\\ 1308.386 0.70\\ 1308.406 0.76\\ 1308.425 0.85\\ 1308.444 0.93\\ 1308.463 1.04\\ 1308.482 1.08\\ 1308.502 1.12\\
1308.521 1.04\\ 1308.540 0.93\\ 1308.559 0.97\\ 1308.578 0.95\\ 1308.598 1.02\\ 1308.617 0.93\\ 1308.636 0.91\\ 1308.655 0.97\\
1308.674 0.93\\ 1308.694 0.97\\ 1308.713 0.89\\ 1308.732 0.97\\ 1308.751 0.93\\ 1308.770 1.02\\ 1308.790 1.02\\ 1308.809 1.12\\
1308.828 1.13\\ 1308.847 0.89\\ 1308.866 0.91\\ 1308.886 0.89\\ 1308.905 0.87\\ 1308.924 0.89\\ 1308.943 0.89\\ 1308.962 0.85\\
1308.982 0.89\\ 1309.001 0.76\\ 1309.020 0.63\\ 1309.039 0.59\\ 1309.058 0.485\\ 1309.078 0.53\\ 1309.097 0.55\\ 1309.116 0.52\\
1309.135 0.59\\ 1309.154 0.68\\ 1309.174 0.76\\ 1309.193 0.85\\ 1309.212 0.89\\ 1309.231 0.93\\ 1309.250 0.97\\ 1309.270 1.07\\
1309.289 1.02\\ 1309.308 0.95\\ 1309.327 0.97\\ 1309.346 0.99\\ 1309.366 0.97\\ 1309.385 0.93\\ 1309.404 0.97\\ 1309.423 0.93\\
1309.442 0.91\\ 1309.462 0.93\\ 1309.481 0.80\\ 1309.500 0.80\\ 1309.519 0.85\\
}\pfour

\pgfplotstableread[row sep=\\]{x y\\
1306.45 1.500\\ 1306.52 1.500\\ 1306.57 1.499\\ 1306.62 1.497\\ 1306.67 1.494\\ 1306.72 1.488\\ 1306.77 1.479\\ 1306.82 1.465\\
1306.87 1.447\\ 1306.92 1.424\\ 1306.97 1.401\\ 1307.02 1.380\\ 1307.07 1.365\\ 1307.12 1.360\\ 1307.17 1.365\\ 1307.22 1.380\\
1307.27 1.401\\ 1307.32 1.424\\ 1307.37 1.447\\ 1307.42 1.465\\ 1307.47 1.479\\ 1307.52 1.488\\ 1307.57 1.494\\ 1307.62 1.497\\
1307.67 1.499\\ 1307.72 1.500\\ 1307.77 1.500\\
}\gfouru
\pgfplotstableread[row sep=\\]{x y\\
1306.45 1.000\\ 1306.52 1.000\\ 1306.57 0.999\\ 1306.62 0.997\\ 1306.67 0.994\\ 1306.72 0.988\\ 1306.77 0.979\\ 1306.82 0.965\\
1306.87 0.947\\ 1306.92 0.924\\ 1306.97 0.901\\ 1307.02 0.880\\ 1307.07 0.865\\ 1307.12 0.860\\ 1307.17 0.865\\ 1307.22 0.880\\
1307.27 0.901\\ 1307.32 0.924\\ 1307.37 0.947\\ 1307.42 0.965\\ 1307.47 0.979\\ 1307.52 0.988\\ 1307.57 0.994\\ 1307.62 0.997\\
1307.67 0.999\\ 1307.72 1.000\\ 1307.77 1.000\\
}\gfourl

\pgfplotsset{
  panel/.style={
    scale only axis, ymin=0, ymax=2.5,
    axis line style={white, line width=1pt},
    tick style={white, line width=0.7pt},
    tick align=inside,
    major tick length=6pt, minor tick length=3.5pt,
    xtick pos=both, ytick pos=both,
    xticklabel pos=lower, yticklabel pos=left,
    ytick={0,0.5,1,1.5,2,2.5},
    yticklabels={0.0,0.5,1.0,1.5,2.0,2.5},
    minor ytick={0.1,0.2,0.3,0.4,0.6,0.7,0.8,0.9,1.1,1.2,1.3,1.4,1.6,1.7,1.8,1.9,2.1,2.2,2.3,2.4},
    tick label style={text=white, font=\fontsize{8}{10}\selectfont},
    xticklabel style={yshift=-2.5pt},
  },
  wline/.style={const plot, white, line width=0.75pt},
  pline/.style={const plot, pinkspec, line width=0.7pt},
  gline/.style={modelgreen, line width=1.6pt, dash pattern=on 4.5pt off 2.8pt},
  dline/.style={white!85!black, line width=0.6pt, dash pattern=on 0.7pt off 4.3pt},
}
\tikzset{
  lbl/.style={rotate=90, anchor=west, text=white, inner sep=0pt, font=\fontsize{8.6}{10}\selectfont},
  ann/.style={anchor=base west, text=annot, inner sep=0pt, font=\fontsize{13.2}{15}\selectfont},
  xlab/.style={anchor=center, text=white, inner sep=0pt, font=\bfseries\fontsize{7.5}{9}\selectfont},
  ylab/.style={anchor=center, rotate=90, text=white, inner sep=0pt, font=\fontsize{7.5}{9}\selectfont},
}

\begin{document}
\begin{tikzpicture}
\useasboundingbox (0,0) rectangle (739pt,453.5pt);
\fill[black] (0,0) rectangle (739pt,453.5pt);
\fill[lav] (0,0) rectangle (3.2pt,453.5pt);
\draw[gray, line width=0.8pt] (6pt,0) -- (6pt,453.5pt);
\fill[lav!55!gray] (0,0) rectangle (739pt,1.1pt);
\fill[white!90!gray] (732.5pt,1.1pt) rectangle (739pt,11.5pt);

% axis titles
\node[xlab] at (202.25pt,230pt) {Wavelength (Å)};
\node[xlab] at (570.5pt,230pt) {Wavelength (Å)};
\node[xlab] at (202.25pt,6pt) {Wavelength (Å)};
\node[xlab] at (570.5pt,6pt) {Wavelength (Å)};
\node[ylab] at (11pt,347.5pt) {normalized flux};
\node[ylab] at (378.5pt,347.5pt) {normalized flux};
\node[ylab] at (11pt,120.5pt) {normalized flux};
\node[ylab] at (378.5pt,120.5pt) {normalized flux};

% Panel 1
\begin{axis}[panel, at={(33.85pt,248.5pt)}, anchor=south west, width=337.5pt, height=195.5pt,
  xmin=1252.06, xmax=1256.94, xtick={1253,1254,1255,1256}, xticklabels={1253,1254,1255,1256},
  minor xtick={1252.1,1252.2,...,1256.9}]
\addplot[dline] coordinates {(1252.06,1) (1256.94,1)};
\addplot[dline] coordinates {(1252.06,1.5) (1256.94,1.5)};
\addplot[wline] table {\wone};
\addplot[pline] table {\pone};
\addplot[gline] table {\goneu};
\addplot[gline] table {\gonel};
\node[lbl] at (axis cs:1252.229,1.52) {-Lyα z=0.02996};
\node[lbl] at (axis cs:1253.179,1.52) {-Lyι z=0.36079};
\node[lbl] at (axis cs:1253.867,1.52) {-SII};
\node[lbl] at (axis cs:1256.210,1.52) {-Lyθ z=0.36079};
\node[ann] at (rel axis cs:0.021,0.031) {z=0.03196, b=56 km/s, logN=13.33};
\end{axis}

% Panel 2
\begin{axis}[panel, at={(401.65pt,248.5pt)}, anchor=south west, width=336.85pt, height=195.5pt,
  xmin=1372.48, xmax=1377.35, xtick={1373,1374,1375,1376,1377}, xticklabels={1373,1374,1375,1376,1377},
  minor xtick={1372.5,1372.6,...,1377.3}]
\addplot[dline] coordinates {(1372.48,1) (1377.35,1)};
\addplot[dline] coordinates {(1372.48,1.5) (1377.35,1.5)};
\addplot[wline] table {\wtwo};
\addplot[pline] table {\ptwo};
\addplot[gline] table {\gtwou};
\addplot[gline] table {\gtwol};
\node[lbl] at (axis cs:1376.411,1.52) {-Lyα z=0.13228};
\node[lbl] at (axis cs:1376.852,1.52) {-Lyβ z=0.34234};
\node[ann] at (rel axis cs:0.022,0.031) {z=0.13102, b=57 km/s, logN=13.41};
\end{axis}

% Panel 3
\begin{axis}[panel, at={(33.85pt,23pt)}, anchor=south west, width=337.5pt, height=196pt,
  xmin=1375.84, xmax=1380.70, xtick={1376,1377,1378,1379,1380}, xticklabels={1376,1377,1378,1379,1380},
  minor xtick={1375.9,1376.0,...,1380.7}]
\addplot[dline] coordinates {(1375.84,1) (1380.70,1)};
\addplot[dline] coordinates {(1375.84,1.5) (1380.70,1.5)};
\addplot[wline] table {\wthree};
\addplot[pline] table {\pthree};
\addplot[gline] table {\gthreeu};
\addplot[gline] table {\gthreel};
\node[lbl] at (axis cs:1376.410,1.52) {-Lyα z=0.13228};
\node[lbl] at (axis cs:1376.842,1.52) {-Lyβ z=0.34234};
\node[lbl] at (axis cs:1377.354,1.52) {-Lyα z=0.13306};
\node[ann] at (rel axis cs:0.021,0.041) {z=0.13377, b=44 km/s, logN=13.28};
\end{axis}

% Panel 4
\begin{axis}[panel, at={(401.65pt,23pt)}, anchor=south west, width=336.85pt, height=196pt,
  xmin=1304.676, xmax=1309.526, xtick={1305,1306,1307,1308,1309}, xticklabels={1305,1306,1307,1308,1309},
  minor xtick={1304.7,1304.8,...,1309.5}]
\addplot[dline] coordinates {(1304.676,1) (1309.526,1)};
\addplot[dline] coordinates {(1304.676,1.5) (1309.526,1.5)};
\addplot[wline] table {\wfour};
\addplot[pline] table {\pfour};
\addplot[gline] table {\gfouru};
\addplot[gline] table {\gfourl};
\node[lbl] at (axis cs:1306.222,1.52) {-Lyα z=0.07447};
\node[lbl] at (axis cs:1308.324,1.52) {-Lyζ z=0.40569};
\node[lbl] at (axis cs:1309.022,1.52) {-Lyα z=0.07685};
\node[ann] at (rel axis cs:0.021,0.041) {z=0.07523, b=43 km/s, logN=12.93};
\end{axis}
\end{tikzpicture}
\end{document}
